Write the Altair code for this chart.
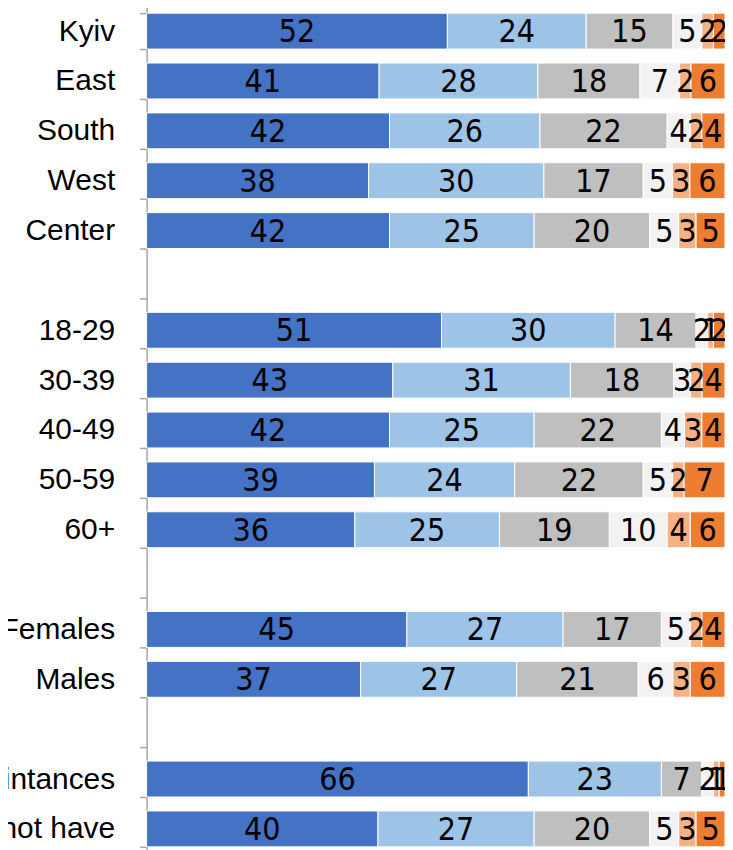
import altair as alt
import pandas as pd

rows = ["Kyiv", "East", "South", "West", "Center",
        "18-29", "30-39", "40-49", "50-59", "60+",
        "Females", "Males",
        "Have acquaintances", "Do not have"]

axis_order = ["Kyiv", "East", "South", "West", "Center", " ",
              "18-29", "30-39", "40-49", "50-59", "60+", "  ",
              "Females", "Males", "   ",
              "Have acquaintances", "Do not have"]

series_names = ["s1", "s2", "s3", "s4", "s5", "s6"]
s1 = [52, 41, 42, 38, 42, 51, 43, 42, 39, 36, 45, 37, 66, 40]
s2 = [24, 28, 26, 30, 25, 30, 31, 25, 24, 25, 27, 27, 23, 27]
s3 = [15, 18, 22, 17, 20, 14, 18, 22, 22, 19, 17, 21, 7, 20]
s4 = [5, 7, 4, 5, 5, 2, 3, 4, 5, 10, 5, 6, 2, 5]
s5 = [2, 2, 2, 3, 3, 1, 2, 3, 2, 4, 2, 3, 1, 3]
s6 = [2, 6, 4, 6, 5, 2, 4, 4, 7, 6, 4, 6, 1, 5]
colors = ["#4472C4", "#9DC3E6", "#BFBFBF", "#F2F2F2", "#F4B183", "#ED7D31"]

records = []
for k, (name, vals) in enumerate(zip(series_names, [s1, s2, s3, s4, s5, s6])):
    for r, v in zip(rows, vals):
        records.append({"cat": r, "series": name, "order": k, "value": v})
df = pd.DataFrame(records)

base = (
    alt.Chart(df)
    .transform_joinaggregate(total="sum(value)", groupby=["cat"])
    .transform_calculate(frac="datum.value / datum.total")
    .transform_window(cum="sum(frac)", groupby=["cat"],
                      sort=[alt.SortField("order")], frame=[None, 0])
    .transform_calculate(start="datum.cum - datum.frac",
                         mid="datum.cum - datum.frac / 2")
)

yenc = alt.Y(
    "cat:N",
    scale=alt.Scale(domain=axis_order, range=[-3, 847],
                    paddingInner=0.28, paddingOuter=0.14),
    axis=alt.Axis(title=None, domainColor="#A6A6A6", tickColor="#A6A6A6",
                  tickSize=7, tickBand="extent", labelFont="Liberation Sans",
                  labelFontSize=30, labelColor="black", labelPadding=25,
                  labelLimit=500, grid=False, domainWidth=1.5, tickWidth=1.5),
)
xscale = alt.Scale(domain=[0, 1])

bars = base.mark_bar(stroke="white", strokeWidth=1).encode(
    y=yenc,
    x=alt.X("start:Q", scale=xscale, axis=None),
    x2="cum:Q",
    color=alt.Color("series:N", scale=alt.Scale(domain=series_names, range=colors),
                    legend=None),
)

labels = base.mark_text(font="DejaVu Sans Condensed", fontSize=32,
                        color="black", baseline="middle", dy=1).encode(
    y=alt.Y("cat:N"),
    x=alt.X("mid:Q", scale=xscale, axis=None),
    text=alt.Text("value:Q"),
)

chart = (
    alt.layer(bars, labels)
    .properties(width=580, height=850,
                autosize=alt.AutoSizeParams(type="none"),
                padding={"left": 139, "top": 0, "right": 0, "bottom": 0})
    .configure_view(stroke=None)
)

chart.save("out.html", embed_options={"renderer": "svg", "actions": False})
